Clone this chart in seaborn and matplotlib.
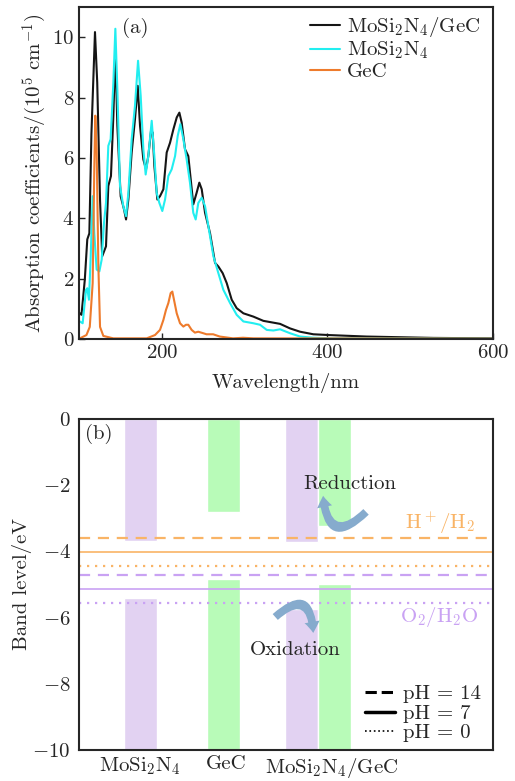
import matplotlib
matplotlib.use('Agg')
import matplotlib.pyplot as plt
import seaborn as sns
from matplotlib.patches import FancyArrowPatch
from matplotlib.lines import Line2D

# (a) absorption spectra, wavelength (nm) vs absorption (1e5 cm^-1)
het_wl = [101, 103, 107, 110, 112.5, 115, 119.3, 122, 125.4, 128, 132.6, 135.4, 138.6, 141.5, 143.9,
          146.3, 150.3, 154.4, 156.8, 159.6, 163.6, 167.6, 170.9, 173.7, 177.7, 180.9, 183.7, 187,
          189, 191, 194.6, 197.8, 201.9, 205.9, 209.9, 214, 218, 221.2, 224, 228, 232, 234.9, 238,
          242, 245.3, 248.2, 252.2, 258.2, 264.3, 268.3, 273.5, 278.4, 284.4, 290.4, 298.5, 310.6,
          322.6, 342.8, 354.8, 366.9, 383, 401, 447, 528, 600]
het_abs = [0.85, 0.8, 1.96, 3.3, 3.5, 6.8, 10.17, 8.5, 4.6, 2.74, 3.07, 5.07, 5.4, 7.4, 9.6,
           7.06, 4.73, 4.29, 3.96, 4.62, 6.18, 7.28, 8.39, 7.06, 5.95, 5.62, 6.06, 6.9,
           6.84, 5.73, 4.62, 4.73, 4.96, 6.18, 6.5, 6.95, 7.34, 7.5, 7.17, 6.29, 6.06, 5.29, 4.46,
           4.84, 5.18, 4.96, 4.18, 3.51, 2.52, 2.4, 2.18, 1.85, 1.3, 1.02, 0.85, 0.74,
           0.6, 0.5, 0.35, 0.24, 0.155, 0.13, 0.08, 0.035, 0.02]

mos_wl = [101, 104.4, 108.5, 110, 112, 114, 116.5, 118.5, 121.3, 124.6, 127.4, 130.2, 132.6, 135.4,
          138.2, 141.5, 143.9, 146.3, 149.5, 153.5, 156.8, 159.6, 163.6, 167.6, 171.3, 174.5, 177.7,
          180.5, 183.7, 187.8, 191, 193.8, 197, 200.6, 203.9, 207.9, 211.9, 216, 219.2, 222.4, 226,
          230, 234, 238, 240.9, 244.1, 248.2, 252.2, 256.2, 262.3, 268.3, 274.3, 282.4, 290.4,
          298.5, 310.6, 318.6, 326.7, 334.7, 342.8, 354.8, 366.9, 383, 407, 600]
mos_abs = [0.58, 0.52, 1.63, 1.68, 1.3, 2.63, 4.73, 3.5, 2.3, 2.24, 2.63, 3.85, 4.51, 6.4,
           6.62, 8.5, 10.28, 8.28, 5.07, 4.4, 4.07, 4.84, 6.62, 7.73, 9.22, 8.06, 6.29,
           5.45, 6.06, 7.23, 6.06, 4.84, 4.51, 4.24, 4.62, 5.4, 5.62, 6.06, 6.73, 7.12, 6.62,
           5.95, 5.18, 4.18, 3.96, 4.51, 4.68, 4.4, 3.74, 2.74, 2.18, 1.63, 1.19, 0.8,
           0.58, 0.52, 0.47, 0.3, 0.28, 0.32, 0.19, 0.08, 0.04, 0.02, 0.01]

gec_wl = [101, 109, 113, 116.5, 118.5, 119.7, 121.3, 123.4, 125.4, 129.4, 141.5, 181.7, 191.8, 197.8,
          201.9, 205, 207.9, 210.7, 212.7, 214.7, 218, 222, 226, 229.2, 232, 236, 240, 244, 250,
          254, 262, 270, 286, 298, 310.6, 600]
gec_abs = [0.02, 0.13, 0.4, 1.85, 5.7, 7.4, 6.3, 2.4, 0.4, 0.1, 0.02, 0.02, 0.13, 0.3,
           0.63, 0.96, 1.19, 1.52, 1.57, 1.3, 0.85, 0.52, 0.41, 0.47, 0.47, 0.3, 0.21, 0.24, 0.19,
           0.155, 0.155, 0.08, 0.02, 0.04, 0.02, 0.01]

# (b) band edges (eV)
bar_x = [1.48, 3.49, 5.38, 6.17]
cbm = [-3.68, -2.80, -3.71, -3.25]
vbm = [-5.42, -4.84, -5.75, -4.98]
bar_colors = ['#e2d2f2', '#b8fbb8', '#e2d2f2', '#b8fbb8']
cat_pos = [1.47, 3.55, 6.1]
cat_labels = ['MoSi$_2$N$_4$', 'GeC', 'MoSi$_2$N$_4$/GeC']
h_levels = [-3.61, -4.03, -4.44]   # pH 14, 7, 0
o_levels = [-4.73, -5.14, -5.55]
ph_labels = ['pH = 14', 'pH = 7', 'pH = 0']

sns.set_style('ticks')
plt.rcParams['font.family'] = ['cmr10', 'DejaVu Serif']
plt.rcParams['mathtext.fontset'] = 'cm'
plt.rcParams['axes.formatter.use_mathtext'] = True
plt.rcParams['font.size'] = 15
plt.rcParams['axes.linewidth'] = 1.5

fig = plt.figure(figsize=(5.15, 7.81), dpi=100)
ax1 = fig.add_axes([0.1534, 0.566, 0.804, 0.425])
ax2 = fig.add_axes([0.1534, 0.0397, 0.804, 0.424])

# ---- panel (a)
sns.lineplot(x=het_wl, y=het_abs, ax=ax1, color='#151515', lw=1.5, label='MoSi$_2$N$_4$/GeC', sort=False)
sns.lineplot(x=mos_wl, y=mos_abs, ax=ax1, color='#22eef0', lw=1.5, label='MoSi$_2$N$_4$', sort=False)
sns.lineplot(x=gec_wl, y=gec_abs, ax=ax1, color='#ee7b2c', lw=1.5, label='GeC', sort=False)
ax1.set_xlim(100, 600)
ax1.set_ylim(0, 11)
ax1.set_xticks([200, 400, 600])
ax1.set_yticks([0, 2, 4, 6, 8, 10])
ax1.tick_params(direction='in', length=4, width=1, labelsize=15)
ax1.set_xlabel('Wavelength/nm', fontsize=15, labelpad=8)
ax1.set_ylabel('Absorption coefficients/(10$^5$ cm$^{-1}$)', fontsize=15, labelpad=2)
ax1.text(0.135, 0.937, '(a)', transform=ax1.transAxes, ha='center', va='center', fontsize=15)
ax1.legend(loc='upper right', bbox_to_anchor=(1.0, 1.014), frameon=False, fontsize=15,
           handlelength=1.45, handletextpad=0.35, labelspacing=0.05, borderaxespad=0.2)

# ---- panel (b)
for x, c, v, col in zip(bar_x, cbm, vbm, bar_colors):
    ax2.bar(x, -c, bottom=c, width=0.79, color=col, zorder=1)
    ax2.bar(x, v + 10, bottom=-10, width=0.79, color=col, zorder=1)

styles = [(0, (5, 3.5)), '-', (0, (1, 2.6))]
widths = [1.6, 1.2, 1.6]
for lv, ls, w in zip(h_levels, styles, widths):
    ax2.axhline(lv, color='#f9b466', ls=ls, lw=w, zorder=2)
for lv, ls, w in zip(o_levels, styles, widths):
    ax2.axhline(lv, color='#c9a2f3', ls=ls, lw=w, zorder=2)

ax2.set_xlim(0, 10)
ax2.set_ylim(-10, 0)
ax2.set_xticks(cat_pos)
ax2.set_xticklabels(cat_labels)
ax2.set_yticks([0, -2, -4, -6, -8, -10])
ax2.tick_params(length=0, labelsize=15)
ax2.tick_params(axis='x', pad=4)
ax2.tick_params(axis='y', pad=6)
ax2.set_ylabel('Band level/eV', fontsize=15, labelpad=0)
ax2.text(0.015, 0.955, '(b)', transform=ax2.transAxes, ha='left', va='center', fontsize=15)

ax2.text(6.55, -1.96, 'Reduction', ha='center', va='center', fontsize=15, zorder=4)
ax2.text(5.22, -6.98, 'Oxidation', ha='center', va='center', fontsize=15, zorder=4)
ax2.text(8.72, -3.13, 'H$^+$/H$_2$', ha='center', va='center', fontsize=15, color='#f9b466')
ax2.text(8.7, -5.98, 'O$_2$/H$_2$O', ha='center', va='center', fontsize=15, color='#c9a2f3')

arr_style = 'simple,head_width=0.55,head_length=0.4,tail_width=0.28'
ax2.add_patch(FancyArrowPatch((6.98, -2.75), (5.89, -2.24), connectionstyle='arc3,rad=-1.1',
                              arrowstyle=arr_style, mutation_scale=20, color='#86abcd', lw=0, zorder=3))
ax2.add_patch(FancyArrowPatch((4.69, -6.04), (5.66, -6.55), connectionstyle='arc3,rad=-1.1',
                              arrowstyle=arr_style, mutation_scale=20, color='#86abcd', lw=0, zorder=3))

handles = [Line2D([], [], color='black', ls=s, lw=w) for s, w in zip(['--', '-', ':'], [2.2, 2.5, 1.2])]
ax2.legend(handles, ph_labels, loc='lower right', bbox_to_anchor=(1.0, -0.015), frameon=False,
           fontsize=15, handlelength=1.45, handletextpad=0.35, labelspacing=0.05, borderaxespad=0.2)

fig.savefig('out.png', dpi=100)
